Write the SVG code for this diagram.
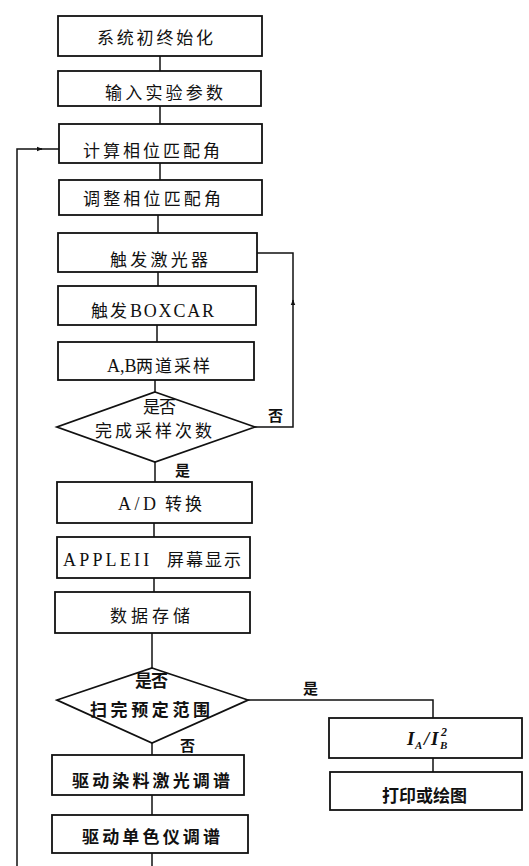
<svg xmlns="http://www.w3.org/2000/svg" width="529" height="866" viewBox="0 0 529 866">
<style>
.box{fill:none;stroke:#111;stroke-width:1.8}
.ln{fill:none;stroke:#111;stroke-width:1.5}
.t{font-family:"Noto Sans CJK SC","Noto Sans",sans-serif;font-size:17px;fill:#111}
.s{font-family:"Liberation Serif","Noto Sans CJK SC",serif;font-size:18px}
.lb{font-family:"Noto Sans CJK SC",sans-serif;font-size:15px;fill:#111;font-weight:bold}
.m{font-family:"Liberation Serif",serif;font-style:italic;font-weight:bold;fill:#111}
</style>
<defs>
<marker id="ah" viewBox="0 0 10 10" refX="9" refY="5" markerWidth="6" markerHeight="6" orient="auto" markerUnits="userSpaceOnUse">
<path d="M0,1 L10,5 L0,9 Z" fill="#111"/>
</marker>
</defs>
<rect width="529" height="866" fill="#fff"/>
<g id="connectors">
<path class="ln" d="M160 56 V71"/>
<path class="ln" d="M160 106 V124"/>
<path class="ln" d="M160 163 V180"/>
<path class="ln" d="M158 215 V233"/>
<path class="ln" d="M158 272 V286"/>
<path class="ln" d="M157 325 V342"/>
<path class="ln" d="M155 380 V392"/>
<path class="ln" d="M155 462 V482"/>
<path class="ln" d="M154 523 V537"/>
<path class="ln" d="M154 578 V592"/>
<path class="ln" d="M152 633 V668"/>
<path class="ln" d="M152 743 V755"/>
<path class="ln" d="M152 795 V815"/>
<path class="ln" d="M152 853 V866"/>
<path class="ln" d="M248 700 H433 V718"/>
<path class="ln" d="M433 758 V772"/>
<path class="ln" d="M255 427 H293 V300" marker-end="url(#ah)"/>
<path class="ln" d="M293 302 V253 H257"/>
<path class="ln" d="M17 866 V149 H42" marker-end="url(#ah)"/>
<path class="ln" d="M40 149 H59"/>
</g>
<g id="n1"><rect class="box" x="58" y="16" width="204" height="40"/><text class="t" x="97" y="44" textLength="116" lengthAdjust="spacing">系统初终始化</text></g>
<g id="n2"><rect class="box" x="58" y="71" width="203" height="35"/><text class="t" x="105" y="99" textLength="118" lengthAdjust="spacing">输入实验参数</text></g>
<g id="n3"><rect class="box" x="59" y="124" width="203" height="39"/><text class="t" x="83" y="157" textLength="137" lengthAdjust="spacing">计算相位匹配角</text></g>
<g id="n4"><rect class="box" x="59" y="180" width="203" height="35"/><text class="t" x="83" y="205" textLength="138" lengthAdjust="spacing">调整相位匹配角</text></g>
<g id="n5"><rect class="box" x="58" y="233" width="199" height="39"/><text class="t" x="110" y="266" textLength="98" lengthAdjust="spacing">触发激光器</text></g>
<g id="n6"><rect class="box" x="58" y="286" width="198" height="39"/><text class="t" y="317"><tspan x="91" letter-spacing="2">触发</tspan><tspan class="s" x="130" font-size="19" letter-spacing="1.8">BOXCAR</tspan></text></g>
<g id="n7"><rect class="box" x="58" y="342" width="196" height="38"/><text class="t" y="372"><tspan class="s" x="107" font-size="17">A,B</tspan><tspan x="136" letter-spacing="2">两道采样</tspan></text></g>
<g id="d1"><polygon class="box" points="155,392 255,427 155,462 57,427"/><text class="t" x="143" y="413" textLength="33" lengthAdjust="spacing">是否</text><text class="t" x="95" y="437" textLength="117" lengthAdjust="spacing">完成采样次数</text></g>
<text class="lb" x="268" y="421">否</text>
<text class="lb" x="175" y="476" font-size="14">是</text>
<g id="n8"><rect class="box" x="57" y="482" width="195" height="41"/><text class="t" y="510"><tspan class="s" x="118" letter-spacing="3.5">A/D</tspan><tspan x="165" letter-spacing="3">转换</tspan></text></g>
<g id="n9"><rect class="box" x="57" y="537" width="193" height="41"/><text class="t" y="566"><tspan class="s" x="63" letter-spacing="3.2">APPLEII</tspan><tspan x="167" letter-spacing="2">屏幕显示</tspan></text></g>
<g id="n10"><rect class="box" x="55" y="592" width="195" height="41"/><text class="t" x="110" y="622" textLength="80" lengthAdjust="spacing">数据存储</text></g>
<g id="d2"><polygon class="box" points="152,668 248,700 152,743 57,700"/><text class="t" x="135" y="687" font-weight="bold" textLength="33" lengthAdjust="spacing">是否</text><text class="t" x="90" y="716" font-weight="bold" textLength="120" lengthAdjust="spacing">扫完预定范围</text></g>
<text class="lb" x="303" y="694">是</text>
<text class="lb" x="180" y="751">否</text>
<g id="n11"><rect class="box" x="52" y="755" width="192" height="40"/><text class="t" x="72" y="787" font-weight="bold" textLength="158" lengthAdjust="spacing">驱动染料激光调谱</text></g>
<g id="n12"><rect class="box" x="52" y="815" width="196" height="38"/><text class="t" x="82" y="843" font-weight="bold" textLength="138" lengthAdjust="spacing">驱动单色仪调谱</text></g>
<g id="n13"><rect class="box" x="329" y="718" width="193" height="40"/><text class="m" font-size="19"><tspan x="407" y="745">I</tspan><tspan x="415" y="749" font-size="11">A</tspan><tspan x="424" y="745">/</tspan><tspan x="431" y="745">I</tspan><tspan x="440" y="749" font-size="11">B</tspan><tspan x="441" y="736" font-size="12">2</tspan></text></g>
<g id="n14"><rect class="box" x="330" y="772" width="192" height="38"/><text class="t" x="382" y="802" font-weight="bold" textLength="85" lengthAdjust="spacing">打印或绘图</text></g>
</svg>
